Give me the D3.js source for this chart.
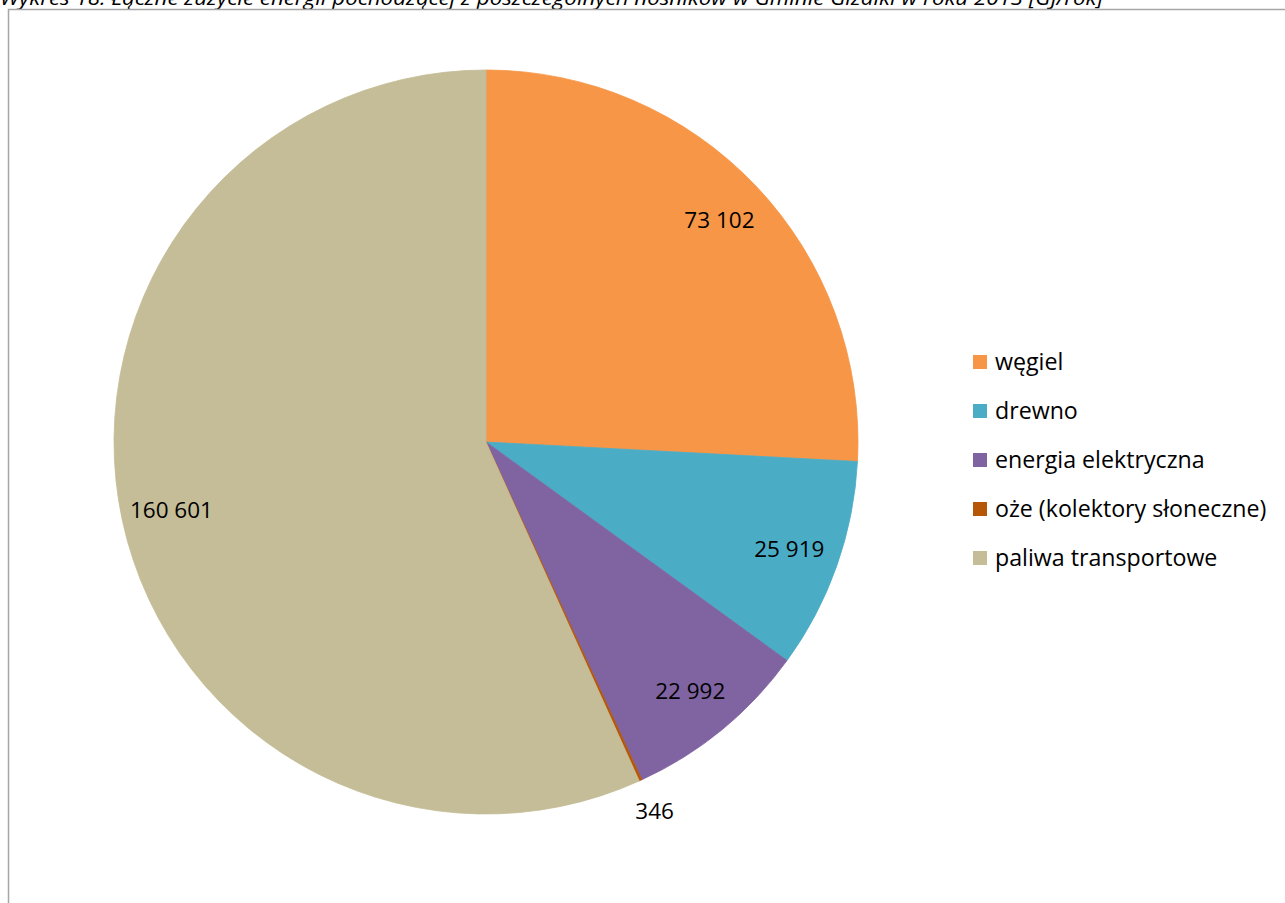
<!DOCTYPE html>
<html lang="pl">
<head>
<meta charset="utf-8">
<script src="https://cdn.jsdelivr.net/npm/d3@7/dist/d3.min.js"></script>
<style>
  html, body { margin: 0; padding: 0; background: #ffffff; }
  svg { display: block; }
</style>
</head>
<body>
<svg id="chart" width="1285" height="903"></svg>
<script>
// Energy carriers and annual consumption [GJ/rok]
const categories = ["węgiel", "drewno", "energia elektryczna", "oże (kolektory słoneczne)", "paliwa transportowe"];
const values = [73102, 25919, 22992, 346, 160601];
const valueLabels = ["73 102", "25 919", "22 992", "346", "160 601"];
const colors = ["#F79646", "#4BACC6", "#8064A2", "#B65708", "#C4BD97"];
const titleText = "Wykres 18: Łączne zużycie energii pochodzącej z poszczególnych nośników w Gminie Gizałki w roku 2013 [GJ/rok]";

const W = 1285, H = 903;
const svg = d3.select("#chart");
const font = "'Open Sans', 'Noto Sans', sans-serif";

// Caption, partly clipped at the top edge
svg.append("text")
  .attr("x", 0).attr("y", 5)
  .attr("font-family", font)
  .attr("font-style", "italic")
  .attr("font-size", 20)
  .attr("textLength", 1103)
  .attr("lengthAdjust", "spacingAndGlyphs")
  .attr("fill", "#000")
  .text(titleText);

// Chart frame
svg.append("rect")
  .attr("x", 8.5).attr("y", 9.5)
  .attr("width", W + 20).attr("height", H + 20)
  .attr("fill", "#fff")
  .attr("stroke", "#A6A6A6")
  .attr("stroke-width", 1.5);

const cx = 486, cy = 442, R = 372;
const data = categories.map((c, i) => ({ name: c, value: values[i], label: valueLabels[i], color: colors[i] }));

const pie = d3.pie().value(d => d.value).sort(null);
const arcs = pie(data);
const arc = d3.arc().innerRadius(0).outerRadius(R);

const g = svg.append("g").attr("transform", `translate(${cx},${cy})`);

g.selectAll("path.slice")
  .data(arcs)
  .join("path")
  .attr("class", "slice")
  .attr("d", arc)
  .attr("fill", d => d.data.color)
  .attr("stroke", d => d.data.color)
  .attr("stroke-width", 0.8);

// Data labels: inside for larger slices, outside for the tiny one
const inner = d3.arc().innerRadius(R * 0.865).outerRadius(R * 0.865);
const outer = d3.arc().innerRadius(R + 34).outerRadius(R + 34);

g.selectAll("text.val")
  .data(arcs)
  .join("text")
  .attr("class", "val")
  .attr("transform", d => {
    const small = (d.endAngle - d.startAngle) < 0.05;
    const [x, y] = (small ? outer : inner).centroid(d);
    return `translate(${x},${y})`;
  })
  .attr("text-anchor", "middle")
  .attr("dy", "0.35em")
  .attr("font-family", font)
  .attr("font-size", 22.5)
  .attr("fill", "#000")
  .text(d => d.data.label);

// Legend
const legend = svg.append("g").attr("transform", "translate(973,362)");
const rowH = 49;
const items = legend.selectAll("g.item")
  .data(data)
  .join("g")
  .attr("class", "item")
  .attr("transform", (d, i) => `translate(0,${i * rowH})`);

items.append("rect")
  .attr("x", 0).attr("y", -7)
  .attr("width", 14).attr("height", 14)
  .attr("fill", d => d.color);

items.append("text")
  .attr("x", 22).attr("y", 0)
  .attr("dy", "0.35em")
  .attr("font-family", font)
  .attr("font-size", 23.2)
  .attr("fill", "#000")
  .text(d => d.name);
</script>
</body>
</html>
